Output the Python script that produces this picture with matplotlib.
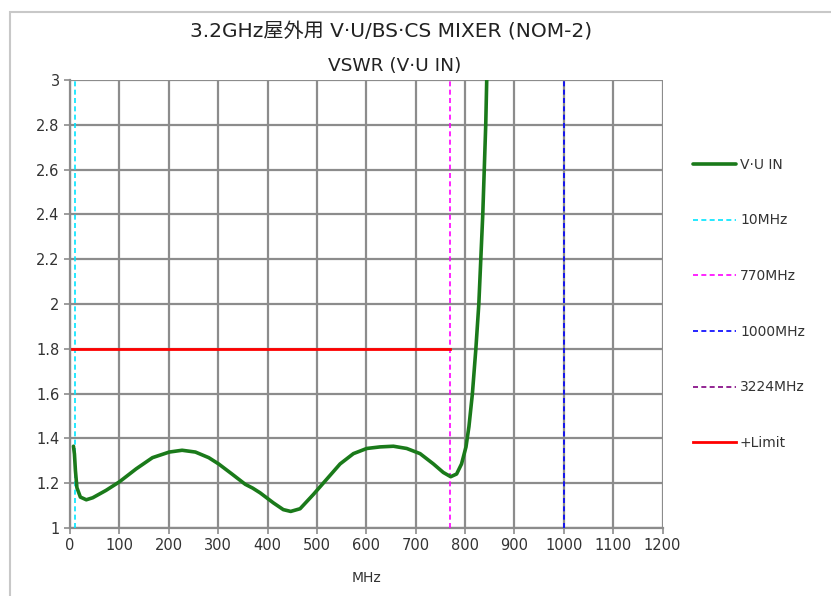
import matplotlib
matplotlib.use('Agg')
import matplotlib.pyplot as plt
from matplotlib.patches import Rectangle

plt.rcParams['font.family'] = ['DejaVu Sans', 'Noto Sans CJK JP']

# ---- data ----
freq = [7, 9, 11, 14, 21, 33, 46, 73, 100, 134, 167, 201, 227, 254, 281, 301, 328,
        355, 370, 385, 412, 432, 447, 466, 493, 520, 547, 574, 601, 628, 655, 682,
        709, 736, 756, 771, 783, 793, 802, 808, 815, 822, 828, 832, 836, 839, 842,
        844, 848]
vswr = [1.365, 1.33, 1.256, 1.18, 1.138, 1.126, 1.135, 1.168, 1.206, 1.264, 1.314,
        1.339, 1.347, 1.339, 1.314, 1.286, 1.241, 1.195, 1.178, 1.157, 1.112, 1.082,
        1.074, 1.086, 1.15, 1.218, 1.286, 1.332, 1.355, 1.362, 1.365, 1.355, 1.332,
        1.286, 1.248, 1.229, 1.241, 1.286, 1.362, 1.453, 1.60, 1.80, 2.0, 2.2, 2.4,
        2.6, 2.8, 3.0, 3.3]
marker_freq = [10, 770, 1000, 3224]
marker_names = ['10MHz', '770MHz', '1000MHz', '3224MHz']
marker_colors = ['#00e5ff', '#ff00ff', '#0000ff', '#800080']
limit_x = [5, 770]
limit_y = [1.8, 1.8]

fig = plt.figure(figsize=(8.31, 5.96), dpi=100)
ax = fig.add_axes([70 / 831, 0.1141, 592.5 / 831, 0.7517])

# frame of the chart area
fig.patches.append(Rectangle((10 / 831, -0.1), 1.2, 1.1 - 12 / 596, transform=fig.transFigure,
                             fill=False, edgecolor='#c8c8c8', linewidth=1.5))

ax.plot(freq, vswr, color='#1a7a1a', linewidth=2.6, label='V·U IN', zorder=5,
        solid_joinstyle='round', solid_capstyle='round')
for f, n, c in zip(marker_freq, marker_names, marker_colors):
    ax.axvline(f, color=c, linestyle=(0, (3, 2)), linewidth=1.2, label=n, zorder=4)
ax.plot(limit_x, limit_y, color='#ff0000', linewidth=2, label='+Limit', zorder=4)

ax.set_xlim(0, 1200)
ax.set_ylim(1, 3)
ax.set_xticks(range(0, 1201, 100))
ax.set_yticks([1, 1.2, 1.4, 1.6, 1.8, 2, 2.2, 2.4, 2.6, 2.8, 3])
ax.set_yticklabels(['1', '1.2', '1.4', '1.6', '1.8', '2', '2.2', '2.4', '2.6', '2.8', '3'])
ax.grid(True, color='#8c8c8c', linewidth=1.6)
ax.set_axisbelow(True)
for s in ['top', 'right']:
    ax.spines[s].set_visible(False)
for s in ['left', 'bottom']:
    ax.spines[s].set_color('#8c8c8c')
    ax.spines[s].set_linewidth(1.6)
ax.tick_params(colors='#8c8c8c', labelcolor='#333333', labelsize=10.5, length=4, width=1.2)
ax.set_xlabel('MHz', fontsize=10, color='#333333', labelpad=13)

fig.text(391 / 831, 1 - 32 / 596, '3.2GHz屋外用 V·U/BS·CS MIXER (NOM-2)', ha='center',
         va='center', fontsize=14.5, color='#222222')
fig.text(395 / 831, 1 - 66 / 596, 'VSWR (V·U IN)', ha='center', va='center',
         fontsize=13.3, color='#222222')

leg = ax.legend(loc='center left', bbox_to_anchor=(1.03, 0.5),
                frameon=False, fontsize=10, labelspacing=3.0, handlelength=3.1,
                handletextpad=0.3)
for t in leg.get_texts():
    t.set_color('#333333')

plt.savefig('out.png', dpi=100)
